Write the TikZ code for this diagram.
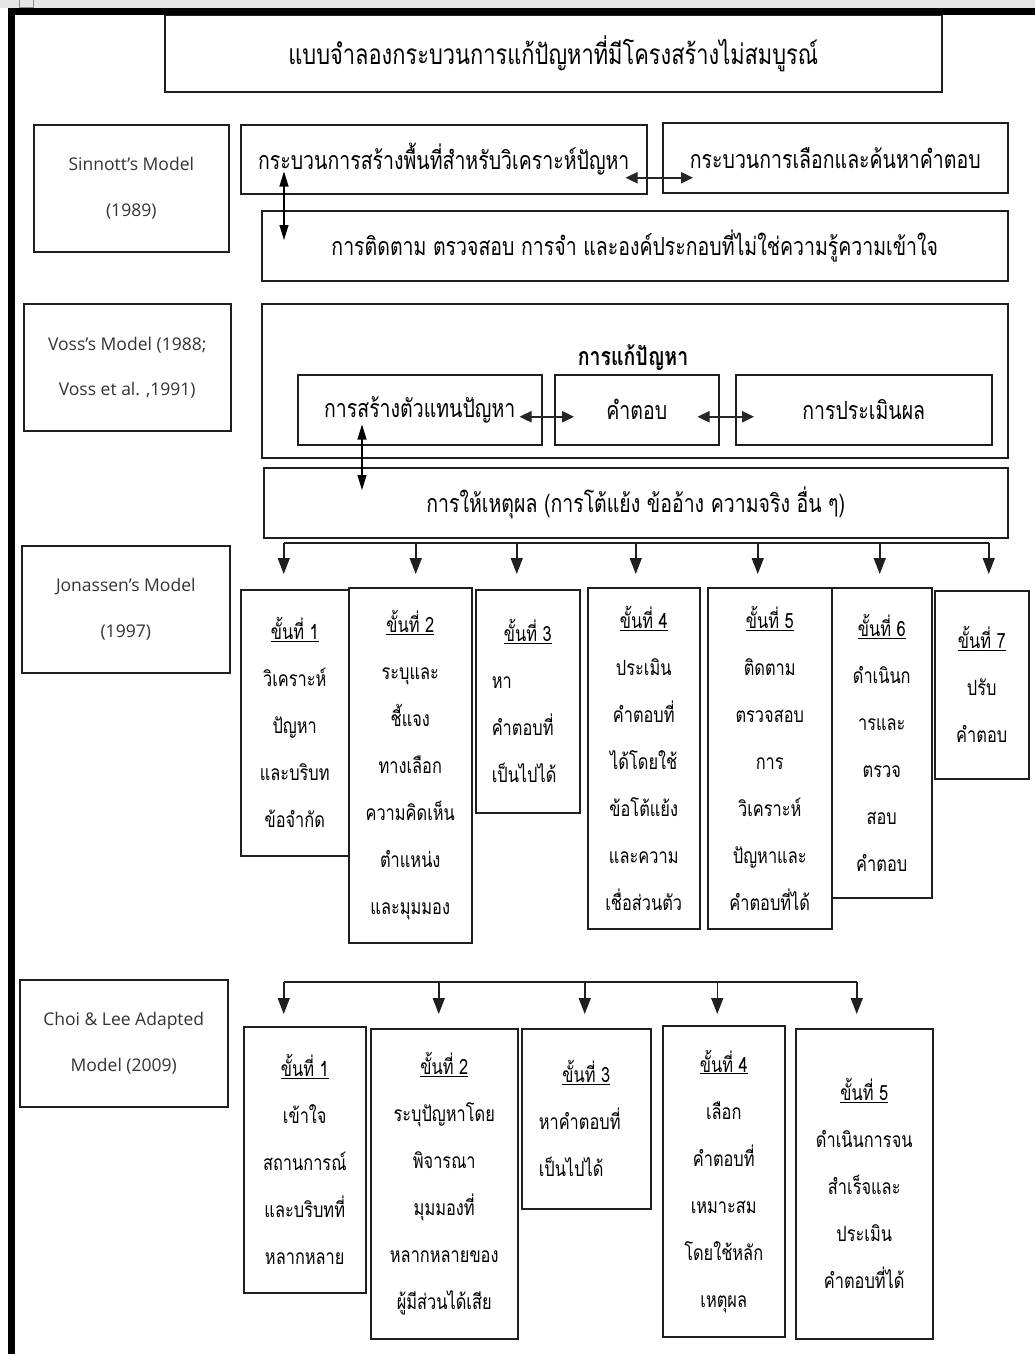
\documentclass[tikz,border=0pt]{standalone}
\usepackage{fontspec}
\setmainfont[Script=Thai, FakeStretch=0.78]{Loma}
\newfontfamily\latinfont{Open Sans}
\usetikzlibrary{arrows.meta,calc}

\newcommand\stepno[1]{\underline{ขั้นที่ #1}}

\tikzset{
  box/.style={draw=black!88, line width=1.5pt, inner sep=0pt, align=center, anchor=north west},
  modelbox/.style={box, font=\latinfont\fontsize{17.5}{46}\selectfont, text=black!80},
  mainbox/.style={box, font=\fontsize{25}{28}\selectfont},
  stepbox/.style={box, font=\fontsize{21}{47}\selectfont},
  dblarrow/.style={{Triangle[width=11pt,length=12pt]}-{Triangle[width=11pt,length=12pt]}, line width=2.4pt, black!85},
  thinarrow/.style={{Triangle[width=9pt,length=15pt]}-{Triangle[width=9pt,length=15pt]}, line width=1.2pt},
  busline/.style={line width=1.5pt, black!88},
  branch/.style={busline, -{Triangle[width=12pt,length=16pt]}}
}

\begin{document}
\begin{tikzpicture}[x=1pt,y=-1pt]
\useasboundingbox (0,0) rectangle (1035,1354);
% page frame
\fill[white] (0,0) rectangle (1035,1354);
\fill[black!10] (0,0) rectangle (1035,8.5);
\draw[black!45, line width=0.8pt] (19.5,0) -- (19.5,7) -- (33,7) -- (33,0);
\fill[black] (8,8.5) rectangle (1035,15);
\fill[black] (8,8.5) rectangle (15,1354);

% title
\node[mainbox, minimum width=777, minimum height=76, font=\fontsize{28}{30}\selectfont] (title) at (164,15)
  {แบบจำลองกระบวนการแก้ปัญหาที่มีโครงสร้างไม่สมบูรณ์};

% Sinnott
\node[modelbox, minimum width=195, minimum height=127] (sinnott) at (33,124)
  {Sinnott’s Model\\(1989)};
\node[mainbox, minimum width=406, minimum height=69] (space) at (240,124)
  {กระบวนการสร้างพื้นที่สำหรับวิเคราะห์ปัญหา};
\node[mainbox, minimum width=345, minimum height=70] (search) at (662,122)
  {กระบวนการเลือกและค้นหาคำตอบ};
\node[mainbox, minimum width=746, minimum height=70] (monitor) at (261,210)
  {การติดตาม ตรวจสอบ การจำ และองค์ประกอบที่ไม่ใช่ความรู้ความเข้าใจ};
\draw[dblarrow] ([xshift=-22pt,yshift=-18.5pt]space.east) -- ([xshift=31pt,yshift=-20pt]search.west);
\draw[thinarrow] ([xshift=44pt,yshift=23pt]space.south west) -- ([xshift=23pt,yshift=-30pt]monitor.north west);

% Voss
\node[modelbox, minimum width=207, minimum height=127, font=\latinfont\fontsize{17.5}{45}\selectfont] (voss) at (23,303)
  {Voss’s Model (1988;\\Voss et al. ,1991)};
\node[box, minimum width=746, minimum height=154] (solving) at (261,303) {};
\node[font=\bfseries\fontsize{25}{28}\selectfont, inner sep=0pt] (solvelabel) at (633,358) {การแก้ปัญหา};
\node[mainbox, minimum width=244, minimum height=70] (repr) at (297,374) {การสร้างตัวแทนปัญหา};
\node[mainbox, minimum width=164, minimum height=70] (answer) at (554,374) {คำตอบ};
\node[mainbox, minimum width=256, minimum height=70] (evaluate) at (735,374) {การประเมินผล};
\node[mainbox, minimum width=744, minimum height=70] (reason) at (263,467)
  {การให้เหตุผล (การโต้แย้ง ข้ออ้าง ความจริง อื่น ๆ)};
\draw[dblarrow] ([xshift=-23pt,yshift=-7pt]repr.east) -- ([xshift=20pt,yshift=-7pt]answer.west);
\draw[dblarrow] ([xshift=-22pt,yshift=-7pt]answer.east) -- ([xshift=19pt,yshift=-7pt]evaluate.west);
\draw[thinarrow] ([xshift=65pt,yshift=21pt]repr.south west) -- ([xshift=99pt,yshift=-23pt]reason.north west);

% Jonassen
\node[modelbox, minimum width=208, minimum height=127] (jonassen) at (21,545)
  {Jonassen’s Model\\(1997)};
\node[stepbox, minimum width=108, minimum height=266] (j1) at (240,589)
  {\stepno{1}\\วิเคราะห์\\ปัญหา\\และบริบท\\ข้อจำกัด};
\node[stepbox, minimum width=123, minimum height=355] (j2) at (348,587)
  {\stepno{2}\\ระบุและ\\ชี้แจง\\ทางเลือก\\ความคิดเห็น\\ตำแหน่ง\\และมุมมอง};
\node[stepbox, minimum width=104, minimum height=223] (j3) at (475,589)
  {\stepno{3}\\\makebox[72pt][l]{หา}\\\makebox[72pt][l]{คำตอบที่}\\\makebox[72pt][l]{เป็นไปได้}};
\node[stepbox, minimum width=112, minimum height=341] (j4) at (587,587)
  {\stepno{4}\\ประเมิน\\คำตอบที่\\ได้โดยใช้\\ข้อโต้แย้ง\\และความ\\เชื่อส่วนตัว};
\node[stepbox, minimum width=124, minimum height=341] (j5) at (707,587)
  {\stepno{5}\\ติดตาม\\ตรวจสอบ\\การ\\วิเคราะห์\\ปัญหาและ\\คำตอบที่ได้};
\node[stepbox, minimum width=100, minimum height=310] (j6) at (831,587)
  {\stepno{6}\\ดำเนินก\\ารและ\\ตรวจ\\สอบ\\คำตอบ};
\node[stepbox, minimum width=94, minimum height=188] (j7) at (934,590)
  {\stepno{7}\\ปรับ\\คำตอบ};
\coordinate (jbus) at (0,543);
\coordinate (jtip) at (0,574);
\foreach \n/\dx in {1/-11,2/5.5,3/-11,4/-8,5/-12,6/-2,7/7}{
  \coordinate (ja\n) at ([xshift=\dx pt]j\n.north);
  \draw[branch] (ja\n |- jbus) -- (ja\n |- jtip);
}
\draw[busline] (ja1 |- jbus) -- (ja7 |- jbus);

% Choi & Lee
\node[modelbox, minimum width=208, minimum height=127] (choi) at (19,979)
  {Choi \& Lee Adapted\\Model (2009)};
\node[stepbox, minimum width=122, minimum height=266] (c1) at (243,1026)
  {\stepno{1}\\เข้าใจ\\สถานการณ์\\และบริบทที่\\หลากหลาย};
\node[stepbox, minimum width=147, minimum height=310] (c2) at (370,1028)
  {\stepno{2}\\ระบุปัญหาโดย\\พิจารณา\\มุมมองที่\\หลากหลายของ\\ผู้มีส่วนได้เสีย};
\node[stepbox, minimum width=129, minimum height=180] (c3) at (521,1028)
  {\stepno{3}\\\makebox[95pt][l]{หาคำตอบที่}\\\makebox[95pt][l]{เป็นไปได้}};
\node[stepbox, minimum width=122, minimum height=311] (c4) at (662,1025)
  {\stepno{4}\\เลือก\\คำตอบที่\\เหมาะสม\\โดยใช้หลัก\\เหตุผล};
\node[stepbox, minimum width=137, minimum height=310] (c5) at (795,1028)
  {\stepno{5}\\ดำเนินการจน\\สำเร็จและ\\ประเมิน\\คำตอบที่ได้};
\coordinate (cbus) at (0,982);
\coordinate (ctip) at (0,1014);
\foreach \n/\dx in {1/-21,2/-5.5,3/-1.5,4/-6.5,5/-7.5}{
  \coordinate (ca\n) at ([xshift=\dx pt]c\n.north);
  \draw[branch] (ca\n |- cbus) -- (ca\n |- ctip);
}
\draw[busline] (ca1 |- cbus) -- (ca5 |- cbus);
\end{tikzpicture}
\end{document}
